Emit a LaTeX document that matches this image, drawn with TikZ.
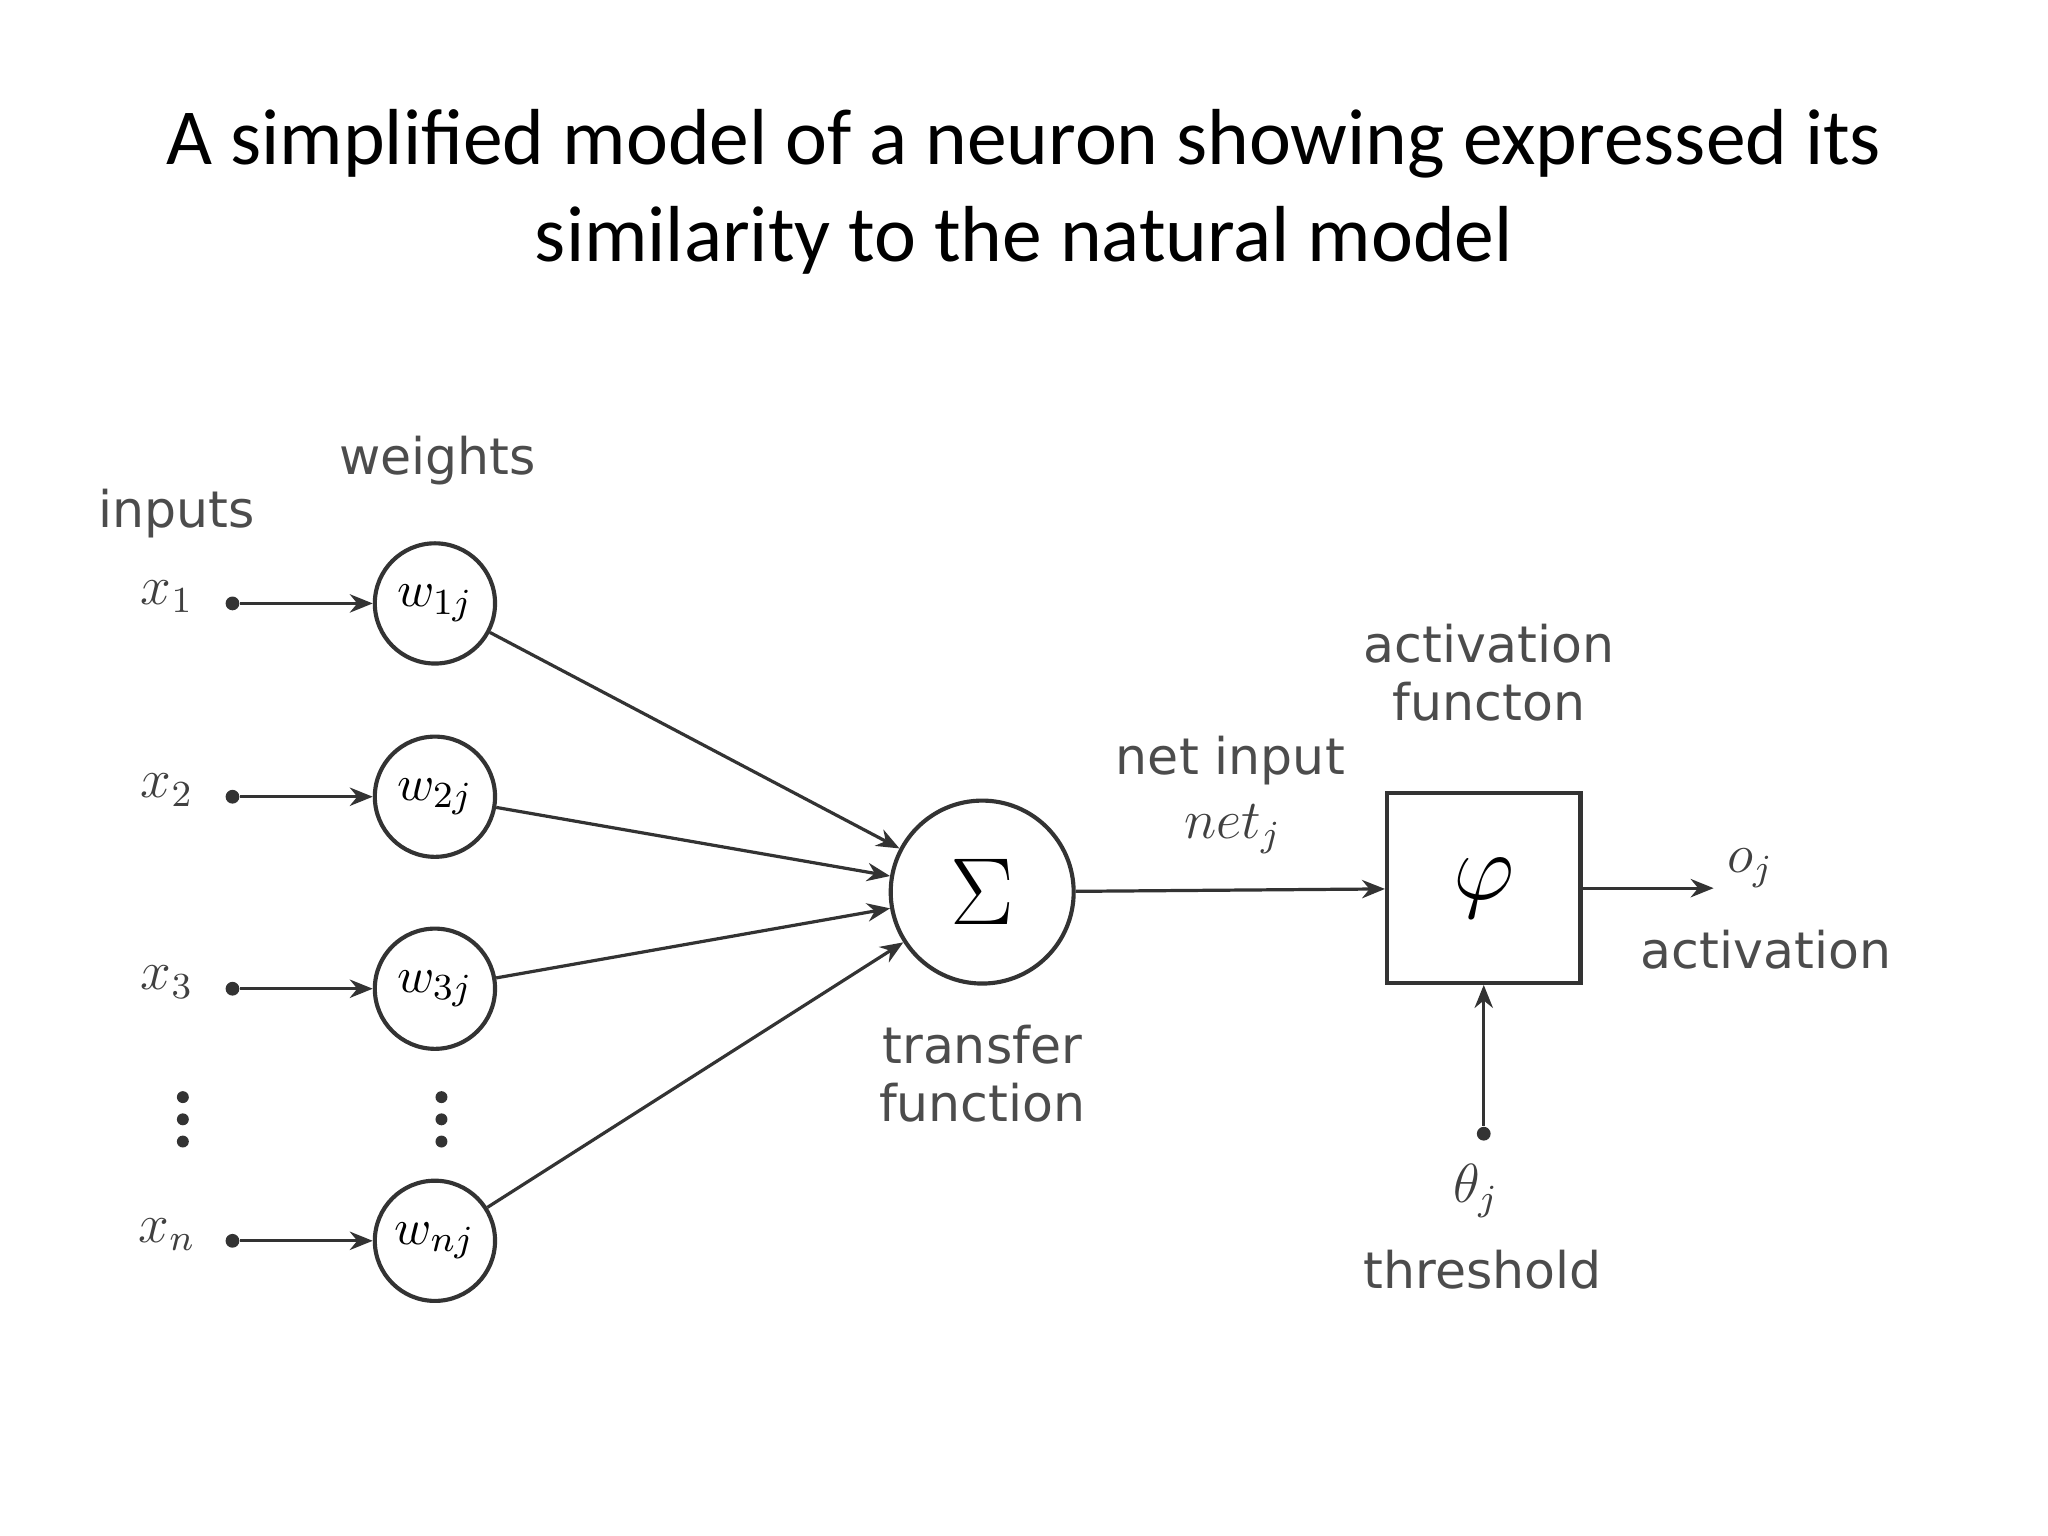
\documentclass[tikz,border=0pt]{standalone}
\usepackage{fontspec}
\setmainfont{Carlito}
\newfontfamily\lbl{DejaVu Sans}
\usetikzlibrary{arrows.meta}
\begin{document}
\begin{tikzpicture}[x=0.01cm,y=-0.01cm,
  wt/.style={circle,draw=black!80,line width=0.9pt,minimum size=0.92cm,inner sep=0pt,font=\fontsize{11}{11}\selectfont},
  lab/.style={font=\lbl\fontsize{11}{12.5}\selectfont,text=black!70,align=center},
  mth/.style={font=\fontsize{12}{12}\selectfont,text=black!75},
  con/.style={-{Stealth[length=5pt,width=4pt]},line width=0.7pt,black!80},
  dot/.style={circle,fill=black!80,inner sep=0pt,minimum size=3pt}]
\useasboundingbox (0,0) rectangle (1568,1176);
\node[font=\fontsize{17.3}{21}\selectfont,align=center] (title) at (784,147)
  {A simplified model of a neuron showing expressed its\\similarity to the natural model};
\node[lab] (inputs) at (135,393) {inputs};
\node[lab] (weights) at (335,353) {weights};
\foreach \i/\y/\s in {1/457/1,2/605/2,3/752/3,n/945/n}{
  \node[mth] (x\i) at (128,\y) {$x_{\s}$};
  \node[dot] (d\i) at (178,\y+5) {};
  \node[wt] (w\i) at (333,\y+5) {$w_{\s j}$};
  \draw[con] (d\i) -- (w\i);
}
\foreach \x/\k in {140/a,338/b}
  \foreach \yy/\m in {840/1,857/2,874/3}
    \node[dot,minimum size=2.6pt] (v\k\m) at (\x,\yy) {};
\node[circle,draw=black!80,line width=0.9pt,minimum size=1.4cm,font=\fontsize{20}{20}\selectfont] (sum) at (752,683) {$\Sigma$};
\foreach \i in {1,2,3,n} \draw[con] (w\i) -- (sum);
\node[lab] (tf) at (752,822) {transfer\\function};
\node[draw=black!80,line width=0.9pt,minimum width=1.48cm,minimum height=1.45cm,font=\fontsize{22}{22}\selectfont] (phi) at (1136,680) {$\varphi$};
\draw[con] (sum) -- (phi);
\node[lab] (ni) at (942,582) {net input};
\node[mth] (net) at (944,635) {$net_j$};
\node[lab] (af) at (1140,515) {activation\\functon};
\coordinate (out) at (1312,680);
\draw[con] (phi) -- (out);
\node[mth] (o) at (1340,665) {$o_j$};
\node[lab] (act) at (1352,727) {activation};
\node[dot] (th) at (1136,868) {};
\draw[con] (th) -- (phi);
\node[mth] (theta) at (1130,912) {$\theta_j$};
\node[lab] (thr) at (1135,972) {threshold};
\end{tikzpicture}
\end{document}
